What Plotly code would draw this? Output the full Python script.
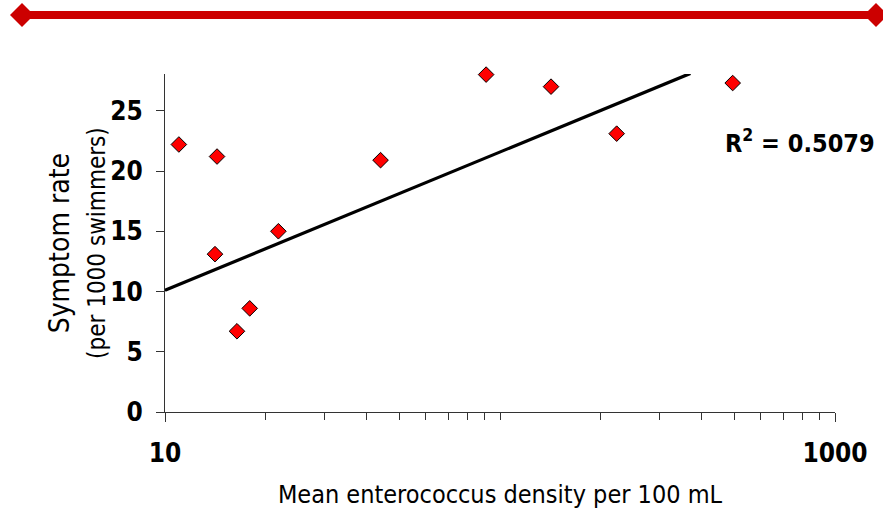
import plotly.graph_objects as go

# ---- data ----
density = [11.0, 14.3, 14.1, 16.4, 17.9, 21.8, 44.0, 90.9, 142, 223, 495]
symptom_rate = [22.2, 21.2, 13.1, 6.7, 8.6, 15.0, 20.9, 28.0, 27.0, 23.1, 27.3]
trend_density = [10, 370]
trend_rate = [10.1, 28.1]
x_tick_vals = [10, 1000]
x_tick_text = ["10", "1000"]
x_minor_vals = [20, 30, 40, 50, 60, 70, 80, 90, 100, 200, 300, 400, 500, 600, 700, 800, 900]
y_tick_vals = [0, 5, 10, 15, 20, 25]
r2_text = "R<sup>2</sup> = 0.5079"

FONT = "DejaVu Sans Condensed, Liberation Sans Narrow, DejaVu Sans, sans-serif"
AX = "#333333"
W, H = 883, 519
L, R, T, B = 165, 835, 74, 412


def px(x):
    return (x - L) / (R - L)


def py(y):
    return (B - y) / (B - T)


fig = go.Figure()
fig.add_trace(go.Scatter(
    x=trend_density, y=trend_rate, mode="lines",
    line=dict(color="black", width=3.2), hoverinfo="skip"))
fig.add_trace(go.Scatter(
    x=density, y=symptom_rate, mode="markers", cliponaxis=False,
    marker=dict(symbol="diamond", size=12, color="#FF0000",
                line=dict(color="black", width=1))))

fig.update_layout(
    width=W, height=H,
    margin=dict(l=L, r=W - R, t=T, b=H - B),
    paper_bgcolor="white", plot_bgcolor="white",
    showlegend=False,
    font=dict(family=FONT, color="black"),
)

fig.update_xaxes(
    type="log", range=[1, 3],
    tickmode="array", tickvals=x_tick_vals, ticktext=x_tick_text,
    ticks="outside", ticklen=9, tickwidth=1, tickcolor=AX,
    showline=True, linecolor=AX, linewidth=1,
    showgrid=False, zeroline=False,
    tickfont=dict(size=26, weight="bold", family=FONT),
    ticklabelstandoff=9,
    minor=dict(tickmode="array", tickvals=x_minor_vals, ticks="outside",
               ticklen=7, tickwidth=1, tickcolor=AX, showgrid=False),
    title=dict(text="Mean enterococcus density per 100 mL",
               font=dict(size=25, family=FONT), standoff=18),
)

fig.update_yaxes(
    range=[0, 28.05],
    tickmode="array", tickvals=y_tick_vals,
    ticks="outside", ticklen=8, tickwidth=1, tickcolor=AX,
    showline=True, linecolor=AX, linewidth=1,
    showgrid=False, zeroline=False,
    tickfont=dict(size=26, weight="bold", family=FONT),
    ticklabelstandoff=8,
)

# y-axis title (two lines, different sizes)
fig.add_annotation(
    xref="paper", yref="paper", x=px(77), y=py(243),
    text="Symptom rate<br><span style='font-size:24px'>(per 1000 swimmers)</span>",
    textangle=-90, showarrow=False, xanchor="center", yanchor="middle",
    font=dict(size=28, family=FONT, color="black"))

# R-squared label
fig.add_annotation(
    xref="paper", yref="paper", x=px(877), y=py(141),
    text="<b>" + r2_text + "</b>", showarrow=False,
    xanchor="right", yanchor="middle",
    font=dict(size=25, family=FONT, color="black"))

# decorative red bar with diamond ends at the top
RED = "#CC0000"
fig.add_shape(type="line", xref="paper", yref="paper",
              x0=px(22), x1=px(876), y0=py(15), y1=py(15),
              line=dict(color=RED, width=8))
for cx in (22, 876):
    path = "M {} {} L {} {} L {} {} L {} {} Z".format(
        px(cx - 12), py(15), px(cx), py(3), px(cx + 12), py(15), px(cx), py(27))
    fig.add_shape(type="path", xref="paper", yref="paper", path=path,
                  fillcolor=RED, line=dict(color=RED, width=0))

fig.write_html("out.html",
               config={"displayModeBar": False},
               post_script="document.body.style.margin='0px';document.body.style.overflow='hidden';")
